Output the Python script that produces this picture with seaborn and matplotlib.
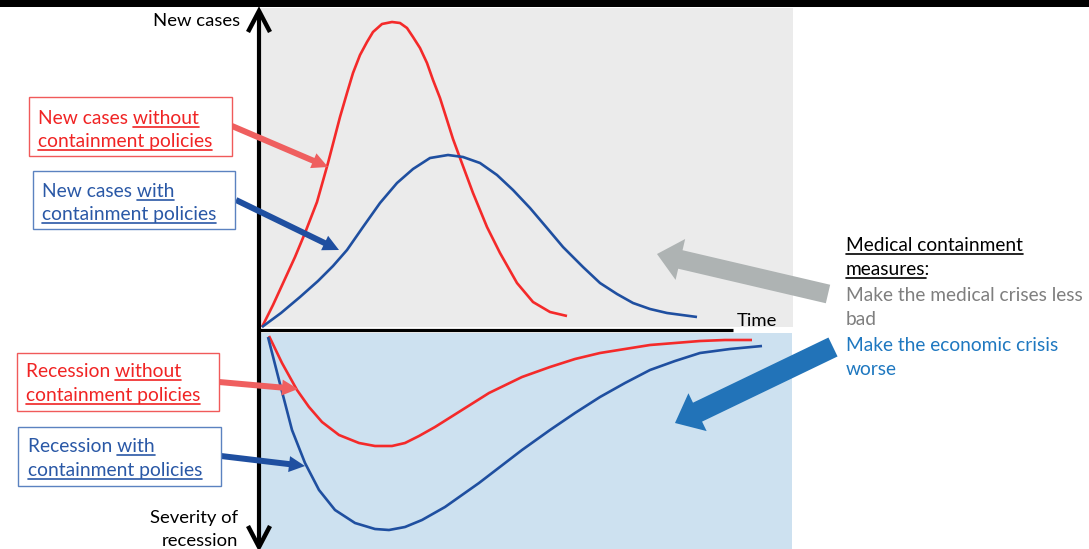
import numpy as np
import pandas as pd
import seaborn as sns
import matplotlib
matplotlib.use("Agg")
import matplotlib.pyplot as plt
from matplotlib.patches import Rectangle, FancyArrow
from matplotlib.lines import Line2D

# ---------------- data (time since outbreak, level) -------------
nc_without_t = [2, 13, 24, 35, 45, 57, 68, 74, 80, 87, 93, 100, 107, 113, 122, 132, 140,
                147, 153, 160, 167, 173, 180, 187, 193, 200, 213, 227, 240, 257, 273, 290, 307]
nc_without_v = [2, 24, 48, 72, 96, 127, 166, 189, 212, 236, 256, 274, 287, 297, 305, 307,
                306, 301, 292, 281, 266, 249, 231, 209, 190, 171, 136, 102, 76, 46, 27, 17, 13]

nc_with_t = [2, 21, 40, 58, 73, 87, 103, 120, 137, 153, 170, 188, 203, 220, 237, 253, 270,
             287, 303, 323, 340, 357, 373, 390, 407, 437]
nc_with_v = [2, 16, 32, 48, 63, 79, 102, 126, 146, 160, 171, 174, 172, 166, 154, 139, 121,
             101, 82, 62, 46, 35, 26, 20, 16, 12]

rec_without_t = [9, 22, 37, 49, 62, 79, 99, 115, 132, 145, 159, 175, 202, 229, 262, 290,
                 315, 340, 365, 390, 415, 440, 465, 492]
rec_without_v = [-7, -34, -61, -78, -93, -106, -114, -117, -117, -114, -107, -98, -81, -64,
                 -48, -38, -30, -24, -20, -16, -14, -12, -11, -11]

rec_with_t = [8, 19, 32, 45, 59, 75, 95, 115, 129, 145, 162, 185, 219, 262, 290, 315, 340,
              365, 390, 415, 440, 470, 502]
rec_with_v = [-8, -51, -101, -134, -161, -181, -194, -200, -201, -198, -191, -178, -154,
              -121, -101, -84, -68, -54, -41, -32, -24, -20, -17]

label_nc_without = ["New cases without", "containment policies"]
label_nc_with = ["New cases with", "containment policies"]
label_rec_without = ["Recession without", "containment policies"]
label_rec_with = ["Recession with", "containment policies"]
y_label_top = "New cases"
y_label_bottom = ["Severity of", "recession"]
x_label = "Time"
side_title = ["Medical containment", "measures:"]
side_medical = ["Make the medical crises less", "bad"]
side_economic = ["Make the economic crisis", "worse"]

# ---------------- style ----------------
sns.set_theme(style="white")
plt.rcParams["font.family"] = ["Lato", "DejaVu Sans"]
FS_BOX = 13.9
FS_SIDE = 13.8
FS_AX = 13.3

RED = "#f42a2a"
RED_TXT = "#f02424"
RED_ARROW = "#ef5f5f"
BLUE = "#1f4fa0"
BLUE_TXT = "#2a58a6"
GREY_ARROW = "#aeb3b3"
BIG_BLUE = "#2273b8"
SIDE_BLUE = "#1f78c0"
SIDE_GREY = "#7f7f7f"

W, H = 1089, 549
OX, OY = 260, 329   # pixel position of the origin

fig = plt.figure(figsize=(W / 100, H / 100), dpi=100)
fig.patch.set_facecolor("white")
ax = fig.add_axes([0, 0, 1, 1])


def P(px, py):
    return px - OX, OY - py


# backgrounds
ax.add_patch(Rectangle(P(261, 327), 793 - 261, 327 - 8, facecolor="#ebebeb", edgecolor="none", zorder=0))
ax.add_patch(Rectangle(P(261, 549), 792 - 261, 549 - 333, facecolor="#cde1f0", edgecolor="none", zorder=0))
ax.add_patch(Rectangle(P(0, 7), W, 7, facecolor="black", edgecolor="none", zorder=0))

# curves
for t, v, c in [(nc_without_t, nc_without_v, RED), (nc_with_t, nc_with_v, BLUE),
                (rec_without_t, rec_without_v, RED), (rec_with_t, rec_with_v, BLUE)]:
    sns.lineplot(x=t, y=v, ax=ax, color=c, lw=1.9, sort=False, estimator=None, zorder=2,
                 solid_joinstyle="round", solid_capstyle="butt")
ax.set_xlim(-OX, W - OX)
ax.set_ylim(OY - H, OY)
ax.axis("off")

# axes
ax.add_line(Line2D(*zip(P(259, 12), P(259, 547)), color="black", lw=3.0, zorder=3, solid_capstyle="butt"))
ax.add_line(Line2D(*zip(P(259, 330), P(733, 330)), color="black", lw=2.3, zorder=3, solid_capstyle="butt"))
for tip, arm in [((259, 11), 21), ((259, 547), -21)]:
    xs = [tip[0] - 11, tip[0], tip[0] + 11]
    ys = [tip[1] + arm, tip[1], tip[1] + arm]
    pts = [P(a, b) for a, b in zip(xs, ys)]
    ax.add_line(Line2D([p[0] for p in pts], [p[1] for p in pts], color="black", lw=3.2,
                       zorder=3, solid_joinstyle="miter", solid_capstyle="butt"))


def arrow(tail, tip, color, width, hw, hl):
    (x1, y1), (x2, y2) = P(*tail), P(*tip)
    ax.add_patch(FancyArrow(x1, y1, x2 - x1, y2 - y1, width=width, head_width=hw, head_length=hl,
                            length_includes_head=True, color=color, lw=0, zorder=4))


arrow((232, 126), (328, 167), RED_ARROW, 6, 16, 16)
arrow((236, 200), (339, 250), BLUE, 6, 16, 16)
arrow((219, 382), (298, 389), RED_ARROW, 6, 16, 16)
arrow((221, 456), (305, 466), BLUE, 6, 16, 16)
arrow((828, 294), (657, 254), GREY_ARROW, 19, 42, 24)
arrow((833, 347), (675, 423), BIG_BLUE, 21, 42, 25)

fig.canvas.draw()
renderer = fig.canvas.get_renderer()


def width_of(s, size):
    t = ax.text(0, 0, s, fontsize=size)
    w = t.get_window_extent(renderer).width
    t.remove()
    return w


def line(px, py, s, color, size, ul=None, ha="left"):
    """ul: substring to underline or True for the whole line."""
    x, y = P(px, py)
    t = ax.text(x, y, s, color=color, fontsize=size, ha=ha, va="baseline", zorder=6)
    if ul:
        space = width_of("a a", size) - width_of("aa", size)
        sub = s if ul is True else ul
        i = s.index(sub)
        pre = s[:i]
        start = (width_of(pre.rstrip(), size) + (space if pre.endswith(" ") else 0)) if pre else 0
        end = width_of(s[:i + len(sub)], size)
        ax.add_line(Line2D([x + start, x + end], [y - 2.5, y - 2.5], color=color, lw=1.2, zorder=6))
    return t


def box(x0, y0, x1, y1, ec):
    ax.add_patch(Rectangle(P(x0, y1), x1 - x0, y1 - y0, facecolor="white", edgecolor=ec, lw=1.0, zorder=5))


box(29, 97, 232, 156, "#f05a5a")
line(38, 124, label_nc_without[0], RED_TXT, FS_BOX, ul="without")
line(38, 147, label_nc_without[1], RED_TXT, FS_BOX, ul=True)

box(33, 171, 235, 229, "#5b82c0")
line(42, 197, label_nc_with[0], BLUE_TXT, FS_BOX, ul="with")
line(42, 220, label_nc_with[1], BLUE_TXT, FS_BOX, ul=True)

box(17, 353, 219, 411, "#f05a5a")
line(26, 377, label_rec_without[0], RED_TXT, FS_BOX, ul="without")
line(26, 401, label_rec_without[1], RED_TXT, FS_BOX, ul=True)

box(18, 427, 221, 486, "#5b82c0")
line(28, 452, label_rec_with[0], BLUE_TXT, FS_BOX, ul="with")
line(28, 476, label_rec_with[1], BLUE_TXT, FS_BOX, ul=True)

line(240, 26, y_label_top, "black", FS_AX, ha="right")
line(238, 523, y_label_bottom[0], "black", FS_AX, ha="right")
line(238, 546, y_label_bottom[1], "black", FS_AX, ha="right")
line(737, 326, x_label, "black", FS_AX)

line(846, 251, side_title[0], "black", FS_SIDE, ul=True)
line(846, 275, side_title[1], "black", FS_SIDE, ul="measures")
line(846, 301, side_medical[0], SIDE_GREY, FS_SIDE)
line(846, 325, side_medical[1], SIDE_GREY, FS_SIDE)
line(846, 351, side_economic[0], SIDE_BLUE, FS_SIDE)
line(846, 375, side_economic[1], SIDE_BLUE, FS_SIDE)

fig.savefig("out.png", dpi=100, facecolor="white")
